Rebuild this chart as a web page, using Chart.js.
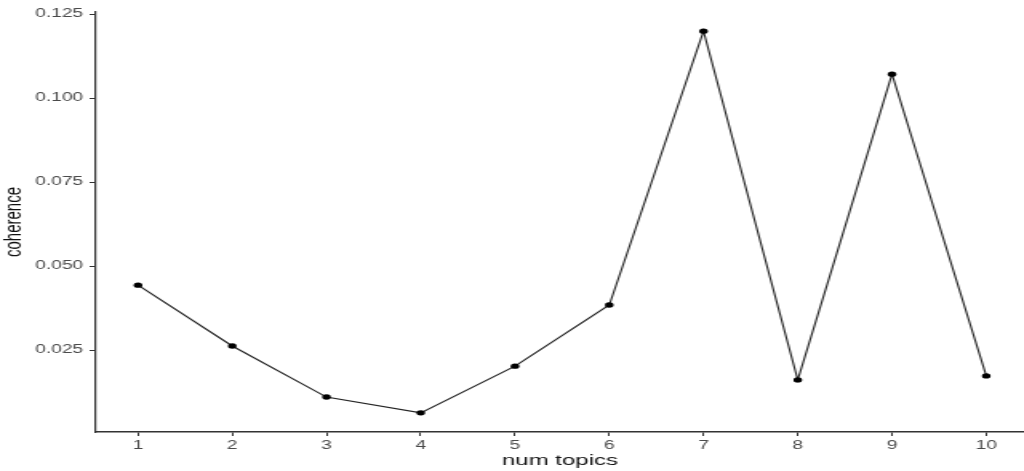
<!DOCTYPE html>
<html>
<head>
<meta charset="utf-8">
<script src="https://cdn.jsdelivr.net/npm/chart.js@4/dist/chart.umd.min.js"></script>
<style>
  html, body { margin: 0; padding: 0; background: #fff; overflow: hidden; }
  /* the reference is stretched sideways, so draw narrow and widen */
  #wrap { width: 640px; height: 471px; transform: scaleX(1.6); transform-origin: 0 0; }
</style>
</head>
<body>
<div id="wrap"><canvas id="chart" width="640" height="471"></canvas></div>
<script>
// data
const numTopics = [1, 2, 3, 4, 5, 6, 7, 8, 9, 10];
const coherence = [0.0443, 0.0262, 0.0110, 0.0063, 0.0202, 0.0384, 0.1199, 0.0161, 0.1071, 0.0173];
const yTicks = [0.025, 0.050, 0.075, 0.100, 0.125];

const axisColor = '#333333';
const tickText = '#4a4a4a';

new Chart(document.getElementById('chart').getContext('2d'), {
    type: 'line',
    data: {
        datasets: [{
            data: numTopics.map((t, i) => ({ x: t, y: coherence[i] })),
            borderColor: '#222',
            borderWidth: 1.1,
            pointRadius: 2.7,
            pointBackgroundColor: '#000',
            pointBorderColor: '#000',
            pointBorderWidth: 0,
            tension: 0,
            fill: false
        }]
    },
    options: {
        responsive: false,
        animation: false,
        layout: { autoPadding: false, padding: { top: 12, right: 0, left: 0, bottom: 0 } },
        plugins: { legend: { display: false }, tooltip: { enabled: false } },
        scales: {
            x: {
                type: 'linear',
                min: 0.554,
                max: 10.40,
                afterBuildTicks: s => { s.ticks = numTopics.map(v => ({ value: v })); },
                afterFit: s => { s.height = 39; },
                grid: { drawOnChartArea: false, drawTicks: true, tickLength: 4, color: axisColor, lineWidth: 1 },
                border: { display: true, color: axisColor, width: 1.5 },
                ticks: {
                    color: tickText, padding: 2,
                    font: { family: 'Liberation Sans, Arial, sans-serif', size: 12 },
                    maxRotation: 0, autoSkip: false,
                    callback: v => String(v)
                },
                title: {
                    display: true, text: 'num topics', color: '#111',
                    font: { family: 'Liberation Sans, Arial, sans-serif', size: 15 },
                    padding: { top: 0, bottom: 1 }
                }
            },
            y: {
                min: 0.0006,
                max: 0.1256,
                afterBuildTicks: s => { s.ticks = yTicks.map(v => ({ value: v })); },
                afterFit: s => { s.width = 60; },
                grid: { drawOnChartArea: false, drawTicks: true, tickLength: 4, color: axisColor, lineWidth: 1 },
                border: { display: true, color: axisColor, width: 1.2 },
                ticks: {
                    color: tickText, padding: 4,
                    font: { family: 'Liberation Sans, Arial, sans-serif', size: 12 },
                    callback: v => v.toFixed(3)
                },
                title: {
                    display: true, text: 'coherence', color: '#111',
                    font: { family: 'Liberation Sans, Arial, sans-serif', size: 15 },
                    padding: { top: 0, bottom: 0 }
                }
            }
        }
    }
});
</script>
</body>
</html>
